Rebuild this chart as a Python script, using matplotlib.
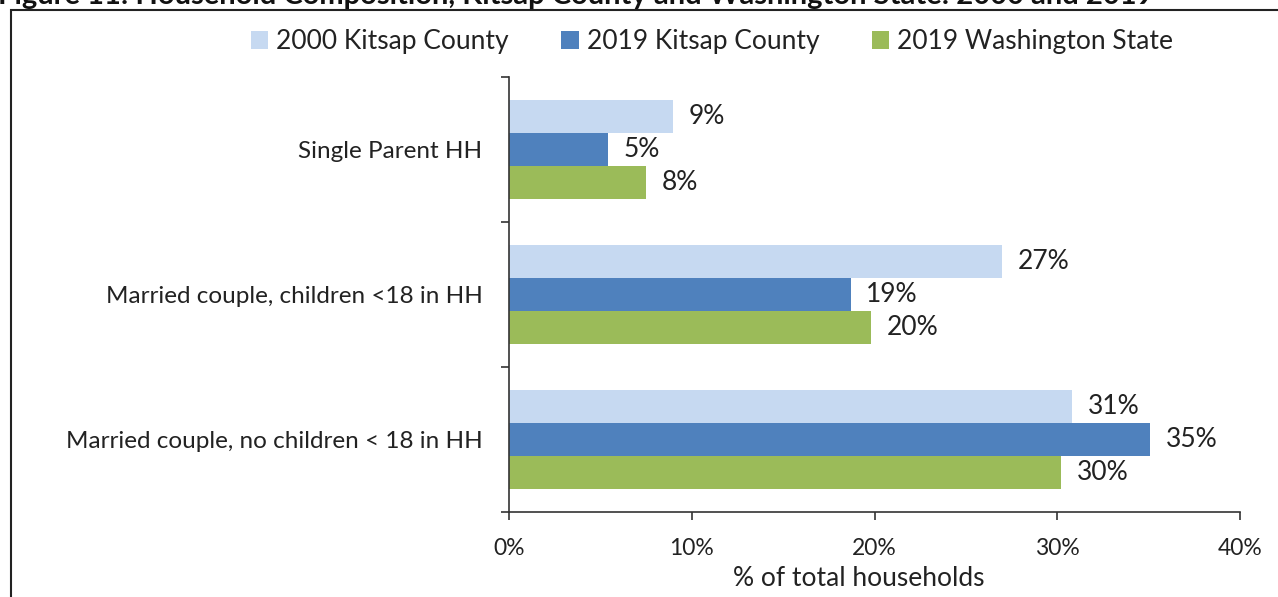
import numpy as np
import matplotlib
matplotlib.use('Agg')
import matplotlib.pyplot as plt
from matplotlib.patches import Rectangle

plt.rcParams['font.family'] = ['Lato', 'DejaVu Sans']

# Data.
categories = ["Single Parent HH",
              "Married couple, children <18 in HH",
              "Married couple, no children < 18 in HH"]
series = ["2000 Kitsap County", "2019 Kitsap County", "2019 Washington State"]
kitsap_2000 = [9.0, 27.0, 30.8]
kitsap_2019 = [5.4, 18.7, 35.1]
wa_2019 = [7.5, 19.8, 30.2]
labels_2000 = ["9%", "27%", "31%"]
labels_2019 = ["5%", "19%", "35%"]
labels_wa = ["8%", "20%", "30%"]
xticks = [0, 10, 20, 30, 40]

colors = ["#C6D9F1", "#4F81BD", "#9BBB59"]
values = [kitsap_2000, kitsap_2019, wa_2019]
labels = [labels_2000, labels_2019, labels_wa]

fig = plt.figure(figsize=(12.78, 5.97), dpi=100)
ax = fig.add_axes([509/1278, 1 - 512/597, (1240-509)/1278, (512-77)/597])

y = np.arange(len(categories))
h = 0.228
for i, (vals, lbls, col) in enumerate(zip(values, labels, colors)):
    pos = y + (i - 1) * h
    ax.barh(pos, vals, height=h, color=col, label=series[i], linewidth=0)
    for p, v, t in zip(pos, vals, lbls):
        ax.text(v + 0.85, p, t, ha='left', va='center', fontsize=19, color='#222222')

ax.set_xlim(0, 40)
ax.set_ylim(2.5, -0.5)
ax.set_xticks(xticks)
ax.set_xticklabels([f"{t}%" for t in xticks], fontsize=16.5, color='#222222')
ax.set_yticks([-0.5, 0.5, 1.5, 2.5])
ax.set_yticklabels([])
ax.set_yticks(y, minor=True)
ax.set_yticklabels(categories, minor=True, fontsize=17.5, color='#222222')
ax.tick_params(axis='y', which='minor', length=0, pad=19)
ax.tick_params(axis='y', which='major', length=6, width=1.2, color='#333333')
ax.tick_params(axis='x', length=6, width=1.2, color='#333333', pad=13)
for s in ['top', 'right']:
    ax.spines[s].set_visible(False)
for s in ['left', 'bottom']:
    ax.spines[s].set_color('#333333')
    ax.spines[s].set_linewidth(1.2)

ax.set_xlabel("% of total households", fontsize=19, color='#222222')
ax.xaxis.set_label_coords((859-509)/(1240-509), -0.125)

fig.legend(loc='center', bbox_to_anchor=(712/1278, 1 - 42/597), ncol=3,
           frameon=False, fontsize=19, handlelength=0.65, handleheight=0.65,
           handletextpad=0.3, columnspacing=2.0, labelcolor='#222222')

# Outer frame and clipped title.
fig.patches.append(Rectangle((11/1278, -0.1), 1.2, 1 - 10/597 + 0.1,
                             transform=fig.transFigure, fill=False,
                             edgecolor='#222222', linewidth=1.5))
fig.text(-2/1278, 1 - 4/597, "Figure 11: Household Composition, Kitsap County and Washington State: 2000 and 2019",
         fontsize=21, fontweight='bold', ha='left', va='baseline', color='#111111')

fig.savefig('out.png', dpi=100)
